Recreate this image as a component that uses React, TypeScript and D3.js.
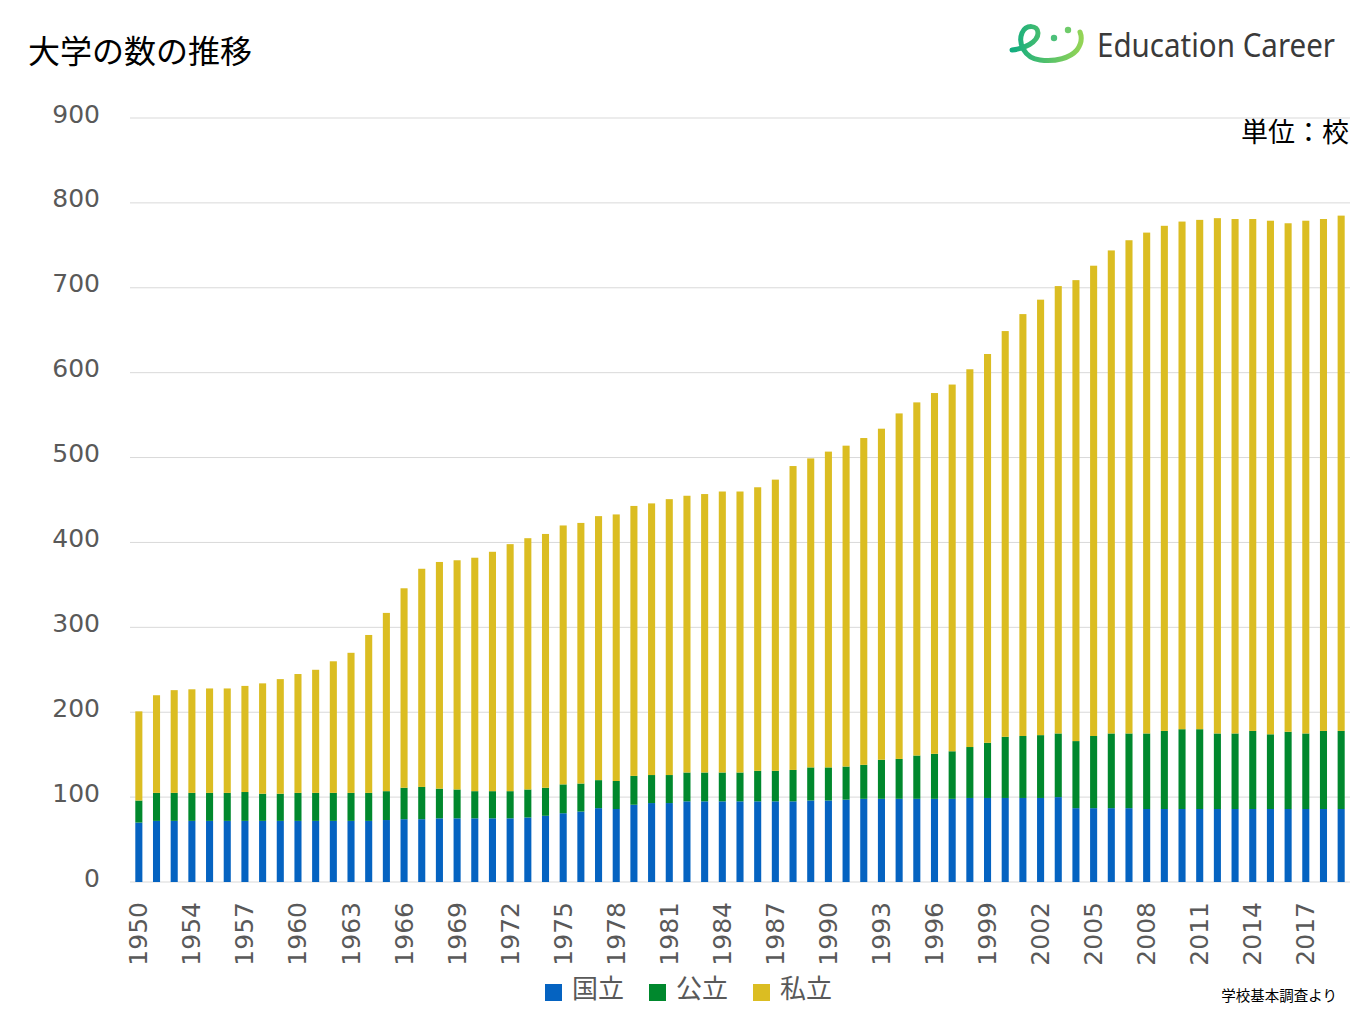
import React from 'react';
import * as d3 from 'd3';

// 学校基本調査: 大学数 (1951 is not in the source table)
const years = [
    1950, 1952, 1953, 1954, 1955, 1956, 1957, 1958, 1959, 1960,
    1961, 1962, 1963, 1964, 1965, 1966, 1967, 1968, 1969, 1970,
    1971, 1972, 1973, 1974, 1975, 1976, 1977, 1978, 1979, 1980,
    1981, 1982, 1983, 1984, 1985, 1986, 1987, 1988, 1989, 1990,
    1991, 1992, 1993, 1994, 1995, 1996, 1997, 1998, 1999, 2000,
    2001, 2002, 2003, 2004, 2005, 2006, 2007, 2008, 2009, 2010,
    2011, 2012, 2013, 2014, 2015, 2016, 2017, 2018, 2019,
];

const national = [
    70, 72, 72, 72, 72, 72, 72, 72, 72, 72,
    72, 72, 72, 72, 73, 74, 74, 75, 75, 75,
    75, 75, 76, 78, 81, 83, 87, 86, 91, 93,
    93, 95, 95, 95, 95, 95, 95, 95, 96, 96,
    97, 98, 98, 98, 98, 98, 98, 99, 99, 99,
    99, 99, 100, 87, 87, 87, 87, 86, 86, 86,
    86, 86, 86, 86, 86, 86, 86, 86, 86,
];

const publicUni = [
    26, 33, 33, 33, 33, 33, 34, 32, 32, 33,
    33, 33, 33, 33, 34, 37, 38, 35, 34, 32,
    32, 32, 33, 33, 34, 33, 33, 33, 34, 33,
    33, 34, 34, 34, 34, 36, 36, 37, 39, 39,
    39, 40, 46, 47, 51, 53, 56, 60, 65, 72,
    73, 74, 75, 79, 85, 88, 88, 89, 92, 94,
    94, 89, 89, 92, 88, 91, 89, 92, 92,
];

const privateUni = [
    105, 115, 121, 122, 123, 123, 125, 130, 135, 140,
    145, 155, 165, 186, 210, 235, 257, 267, 270, 275,
    282, 291, 296, 299, 305, 307, 311, 314, 318, 320,
    325, 326, 328, 331, 331, 334, 343, 358, 364, 372,
    378, 385, 390, 407, 416, 425, 432, 445, 458, 478,
    497, 513, 527, 543, 554, 569, 581, 590, 595, 598,
    600, 607, 606, 603, 605, 599, 604, 603, 607,
];

const seriesNames = ['国立', '公立', '私立'];
const seriesColors = ['#0563c1', '#00882d', '#dbbd22'];
const yTicks = [0, 100, 200, 300, 400, 500, 600, 700, 800, 900];

const W = 1365;
const H = 1024;
const JP = '"Noto Sans CJK JP", "Noto Sans", sans-serif';
const NUM = '"DejaVu Sans", "Noto Sans", sans-serif';

const App: React.FC = () => {
    const rows = years.map((y, i) => ({
        year: String(y),
        国立: national[i],
        公立: publicUni[i],
        私立: privateUni[i],
    }));

    const stacked = d3.stack<any>().keys(seriesNames)(rows);

    const x = d3.scaleBand<string>()
        .domain(rows.map(d => d.year))
        .range([130, 1350])
        .paddingInner(0.6)
        .paddingOuter(0.3);

    const y = d3.scaleLinear().domain([0, 900]).range([882, 118]);

    return (
        <svg width={W} height={H} style={{ position: 'absolute', left: 0, top: 0, display: 'block', background: '#fff' }}>
            <defs>
                <linearGradient id="logoGrad" x1="0" y1="0" x2="1" y2="0">
                    <stop offset="0%" stopColor="#12ad80" />
                    <stop offset="100%" stopColor="#93d456" />
                </linearGradient>
                <linearGradient id="ruleGrad" x1="0" y1="0" x2="1" y2="0">
                    <stop offset="0%" stopColor="#00b050" />
                    <stop offset="75%" stopColor="#3cbf6e" />
                    <stop offset="100%" stopColor="#6bcf90" />
                </linearGradient>
            </defs>

            {/* header */}
            <text x={28} y={63} fontFamily={JP} fontSize={32} fill="#000">大学の数の推移</text>
            <g fill="none" stroke="url(#logoGrad)" strokeWidth={5} strokeLinecap="round">
                <path d="M1012,50 C1024,49 1038,42 1038,33 C1038,25 1026,24 1022,33 C1018,43 1024,58 1040,60 C1056,62 1070,58 1077,50 C1082,43 1082,37 1080,32" />
            </g>
            <circle cx={1054} cy={38} r={3.2} fill="#4cc07a" />
            <circle cx={1068} cy={30} r={3.2} fill="#6fcb6a" />
            <text x={1097} y={57} fontFamily='"Noto Sans", sans-serif' fontSize={32} fill="#3a3a3a"
                textLength={238} lengthAdjust="spacingAndGlyphs">Education Career</text>
            <line x1={8} x2={1357} y1={92} y2={92} stroke="url(#ruleGrad)" strokeWidth={1.5} />

            {/* grid + y axis */}
            {yTicks.map(t => (
                <g key={t}>
                    <line x1={130} x2={1350} y1={y(t)} y2={y(t)} stroke="#d9d9d9" strokeWidth={1} />
                    <text x={100} y={y(t) - 4} textAnchor="end" dominantBaseline="central"
                        fontFamily={NUM} fontSize={25} fill="#595959">{t}</text>
                </g>
            ))}

            <text x={1349} y={142} textAnchor="end" fontFamily={JP} fontSize={27} fill="#000">単位：校</text>

            {/* bars */}
            {stacked.map((s, si) => (
                <g key={s.key} fill={seriesColors[si]}>
                    {s.map((d: any) => (
                        <rect key={d.data.year}
                            x={x(d.data.year)}
                            y={y(d[1])}
                            width={x.bandwidth()}
                            height={y(d[0]) - y(d[1])} />
                    ))}
                </g>
            ))}

            {/* x axis labels, every third category */}
            {rows.map((d, i) => i % 3 === 0 ? (
                <text key={d.year}
                    transform={`translate(${(x(d.year) as number) + x.bandwidth() / 2},902) rotate(-90)`}
                    textAnchor="end" dominantBaseline="central"
                    fontFamily={NUM} fontSize={25} fill="#595959">{d.year}</text>
            ) : null)}

            {/* legend */}
            {seriesNames.map((n, i) => (
                <g key={n} transform={`translate(${545 + i * 104},0)`}>
                    <rect x={0} y={984} width={17} height={17} fill={seriesColors[i]} />
                    <text x={27} y={998} fontFamily={JP} fontSize={26} fill="#595959">{n}</text>
                </g>
            ))}

            <text x={1337} y={1001} textAnchor="end" fontFamily={JP} fontSize={14.5} fill="#000">学校基本調査より</text>
        </svg>
    );
};

export default App;
